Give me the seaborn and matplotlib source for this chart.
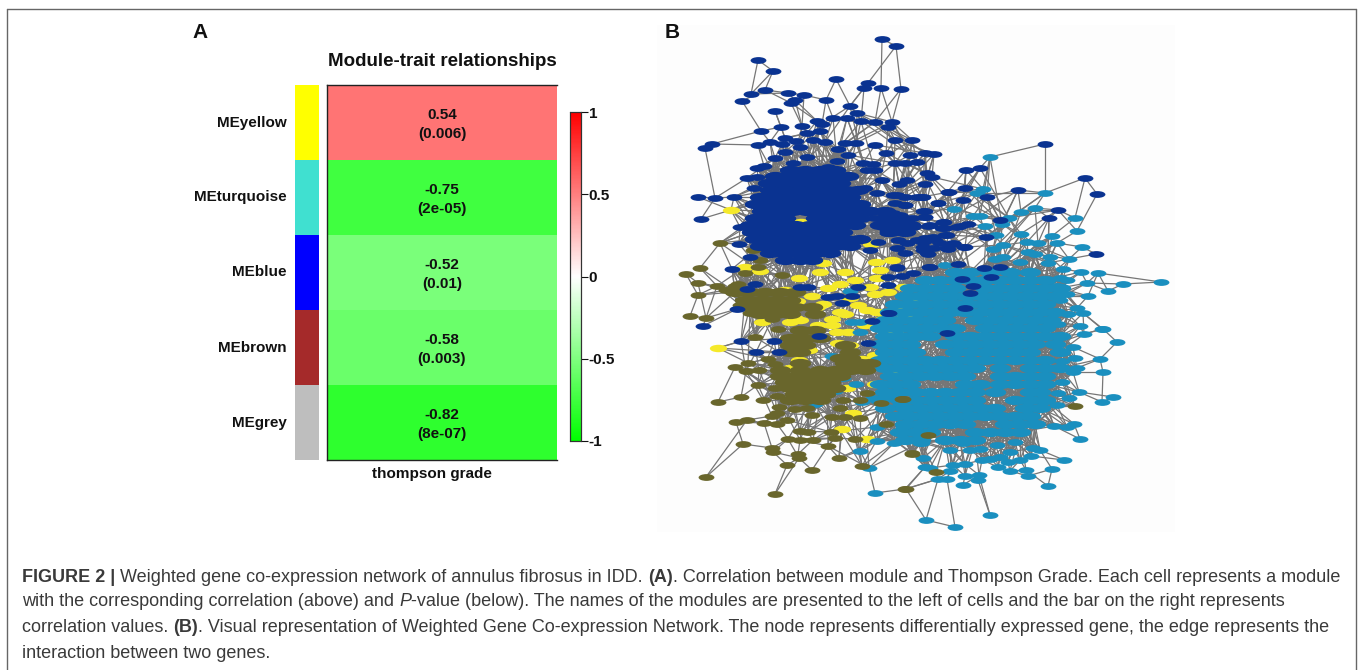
import numpy as np
import pandas as pd
import matplotlib
matplotlib.use("Agg")
import matplotlib.pyplot as plt
import seaborn as sns
from matplotlib.colors import LinearSegmentedColormap, ListedColormap
from matplotlib.collections import LineCollection
from matplotlib.lines import Line2D
from matplotlib.markers import MarkerStyle
from matplotlib.path import Path
from matplotlib.transforms import Affine2D

W, H = 1358, 670

# ---------- Panel A data ----------
modules = ["MEyellow", "MEturquoise", "MEblue", "MEbrown", "MEgrey"]
module_colors = ["#ffff00", "#40e0d0", "#0000ff", "#a52a2a", "#bebebe"]
correlation = [0.54, -0.75, -0.52, -0.58, -0.82]
p_values = ["0.006", "2e-05", "0.01", "0.003", "8e-07"]
trait = "thompson grade"
cbar_ticks = [-1, -0.5, 0, 0.5, 1]

# ---------- Panel B data: node positions (image pixels) ----------
navy_outer = [(882,39),(896,46),(758,60),(773,71),(836,79),(868,83),(864,88),(881,88),(901,89),(765,90),
 (751,94),(742,101),(788,93),(804,95),(795,100),(791,103),(826,100),(850,106),(775,111),(857,113),(833,118),
 (847,118),(861,121),(875,122),(892,122),(888,127),(817,121),(822,124),(781,127),(802,126),(761,131),(820,131),
 (807,133),(895,140),(912,140),(712,144),(705,148),(758,145),(770,142),(785,138),(796,141),(782,144),(845,143),
 (856,143),(875,145),(838,149),(825,142),(813,140),(800,147),(785,152),(886,153),(910,155),(848,155),(775,158),
 (895,163),(905,163),(917,162),(837,161),(807,157),(863,163),(873,164),(764,166),(757,168),(793,163),(828,167),
 (867,170),(875,170),(757,177),(747,178),(882,180),(907,180),(899,184),(754,188),(865,188),(877,193),(698,197),
 (715,198),(734,197),(758,203),(701,219),(740,227),(739,244),(750,257),(732,269),(897,195),(905,205),(917,197),
 (860,208),(875,218),(893,213),(907,220),(913,227),(887,233),(878,242),(898,240),(917,240),(870,250),(897,268),
 (1045,144),(1085,178),(1097,194),(1058,210),(1049,218),(1018,190),(1096,254),(980,168),(966,170),(934,154),
 (925,153),(927,173),(932,177),(925,184),(949,192),(965,188),(963,200),(987,197),(938,203),(923,197),(925,211),
 (925,217),(1000,220),(944,222),(968,224),(957,227),(928,226),(942,228),(986,237),(945,235),(933,237),(923,242),
 (940,243),(953,244),(964,247),(948,249),(933,248),(923,250),(928,254),(929,267),(958,264),(984,268),(1000,267),
 (991,277),(962,279),(973,286),(970,293),(965,308),
 (893,195),(905,197),(922,197),(895,203),(905,205),(938,203),(923,211),(925,217),(900,215),(912,218),(890,218),
 (913,225),(900,223),(887,230),(897,232),(943,222),(930,225),(945,228),(960,226),(947,235),(925,238),(935,240),
 (907,243),(897,248),(923,247),(953,243),(965,247),(947,248),(927,253),(905,253),(930,267),(897,267),(913,273),
 (902,276),(888,277),(888,313),(948,192),
 (737,309),(703,326),(741,341),(774,341),(756,352),(779,352),(747,289),(755,284),(808,287),(800,287),(858,287),
 (852,296),(837,296),(828,297),(842,303),(888,285),(889,313),(872,321),(868,343),(819,336),(947,333)]
navy_core = {170:[790,805,820,835],176:[775,790,805,820,835,848],183:[768,782,797,812,826,840],
 190:[770,785,800,815,830,845,858],197:[760,775,790,805,820,835,850],204:[755,770,785,800,815,830,845,860],
 211:[762,777,792,807,822,837,852,870,885],218:[755,770,785,816,830,845,860,885,900],
 225:[750,765,780,795,810,825,840,855,880,895,910],232:[752,767,782,797,812,827,842,890,905],
 239:[755,770,785,800,815,830,845,860],246:[760,775,790,805,820,835,850],253:[770,785,800,815,830],
 260:[785,800,812]}

teal_outer = [(990,157),(1045,193),(983,189),(977,193),(954,209),(1021,212),(1035,208),(973,216),(980,216),(1009,218),
 (1075,218),(1077,231),(985,226),(1002,224),(1021,234),(1052,236),(996,235),(1057,243),(1027,242),(1038,243),
 (1003,245),(1082,247),(993,249),(1028,252),(1035,254),(1050,257),(1069,259),(1003,257),(995,259),(1048,263),
 (1020,262),(945,265),(1063,269),(1098,273),(1081,272),(1060,278),(1067,280),(1047,281),(1087,283),(1123,284),
 (1161,282),(1057,286),(1108,291),(1088,296),(1067,294),(1060,300),(1077,308),(1083,313),(1068,314),(1058,324),
 (1080,326),(1103,329),(1102,329),(1084,334),(1117,342),(1073,347),(1075,358),(1100,359),(1062,361),(1103,372),
 (1077,368),(1073,372),(1062,382),(1079,392),(1113,397),(1102,402),(1069,398),(1058,393),(1057,405),(1054,426),
 (1067,427),(1074,424),(1080,439),(1064,460),(1052,469),(1048,486),(1031,456),(1028,476),(1026,470),(1010,471),
 (998,467),(1020,460),(1008,462),(1040,450),(990,515),(955,527),(926,520),(963,485),(978,480),(965,476),(979,475),
 (938,479),(947,479),(950,471),(925,467),(930,468),(923,458),(922,443),(950,450),(953,465),(965,464),(963,443),
 (975,440),(982,460),(990,459),(1000,457),(970,450),(980,449),(997,445),(1015,442),(1033,448),(1010,452),
 (850,291),(852,322),(860,322),(860,332),(832,356),(843,378),(856,384),(835,391),(873,398),(862,402),(815,404),
 (877,427),(877,441),(894,443),(860,451),(869,468),(875,493),(900,404),(893,397),(905,413),(903,427),(920,443)]
teal_core = {272:[955,970,990,1010,1030],280:[925,940,955,970,985,1000,1015,1030,1045],
 288:[910,925,940,955,985,1000,1015,1030,1045,1060],296:[905,920,935,950,965,980,995,1010,1025,1040,1055],
 304:[895,910,925,940,955,970,985,1000,1015,1030,1045],312:[890,905,920,935,950,965,980,995,1010,1025,1040,1055],
 320:[885,900,915,930,945,975,990,1005,1020,1035,1050],328:[880,895,910,925,940,955,985,1000,1015,1030,1045],
 336:[885,900,915,930,955,970,985,1000,1015,1030,1045,1060],344:[880,895,910,945,960,975,990,1005,1020,1035,1055],
 352:[885,900,915,955,970,985,1000,1015,1030,1060],360:[880,895,910,925,940,955,970,985,1000,1015,1030,1045],
 368:[885,900,915,930,945,960,975,1000,1030,1045,1060],376:[890,905,920,935,950,965,1000,1015,1030,1045],
 384:[880,895,910,965,980,1000,1015,1030,1045],392:[885,900,915,930,945,960,975,995,1030,1040],
 400:[880,900,915,930,945,960,975,1015,1030,1045],408:[885,905,920,935,950,965,980,995,1025,1040],
 416:[895,910,925,940,955,970,985,1000,1015,1030],424:[905,920,935,950,965,1005,1020,1035],
 432:[900,915,930,975,990,1005,1020],440:[905,920,945,960,975]}

olive_outer = [(698,283),(717,286),(698,295),(690,316),(706,318),(726,290),(738,284),(735,286),(740,305),(750,313),
 (772,319),(778,329),(755,337),(797,337),(748,363),(735,367),(746,371),(759,370),(768,359),(775,364),(758,385),
 (718,402),(741,397),(763,400),(777,396),(775,388),(736,422),(747,420),(764,423),(777,424),(787,420),(772,416),
 (779,407),(777,413),(743,444),(772,448),(773,452),(787,465),(798,454),(799,458),(788,439),(800,440),(813,440),
 (800,431),(808,432),(812,470),(706,477),(775,494),(839,458),(828,446),(835,438),(831,432),(855,439),(862,466),
 (905,489),(912,454),(886,424),(881,403),(860,400),(843,400),(840,408),(832,417),(845,417),(860,418),(795,409),
 (807,408),(812,415),(827,394),(867,393),(902,399),(1075,406),(928,435),(912,453),(936,472),(906,489),(903,399),
 (720,243),(753,250),(700,268),(760,260),(686,274),(745,273),(782,275),(758,267)]
olive_core = {292:[735,750,765,780,795],300:[745,760,775,790],307:[750,765,780,795,812],314:[760,775,790,815],
 330:[800,815],338:[790,805,820],345:[790,805,845],352:[790,800,850],358:[840,850],363:[800,845,860,870],
 370:[780,800,820,835,850,865],376:[780,795,810,825,840],382:[785,800,815,830],388:[790,805,820,835],
 394:[795,810,825],400:[790,805,820]}

yellow_nodes = [(718,348),(762,322),(790,368),(799,360),(809,350),(842,429),(867,439),(853,413),(875,384),(891,374),
 (847,388),(830,385),(862,359),(875,355),(850,345),(838,343),(895,331),(887,329),(848,332),(837,332),(832,325),
 (818,325),(832,319),(883,319),(913,319),(902,307),(867,310),(858,305),(840,312),(845,314),(817,307),(823,304),
 (797,301),(795,318),(790,322),(800,320),(828,288),(840,284),(870,287),(875,294),(888,292),(903,287),(917,302),
 (877,312),(731,210),(758,220),(801,222),(745,267),(760,271),(820,272),(823,263),(843,233),(871,244),(876,262),
 (892,260),(845,272),(877,278),(799,278),(880,270),(855,280),(850,298),(865,325),(905,315),(812,296),(785,290)]


def to_frame(name, outer, core):
    rows = [(x, y, False) for x, y in outer]
    for y, xs in core.items():
        rows += [(x, y, True) for x in xs]
    d = pd.DataFrame(rows, columns=["x", "y", "core"])
    d["module"] = name
    return d


nodes = pd.concat([to_frame("yellow", yellow_nodes, {}), to_frame("teal", teal_outer, teal_core),
                   to_frame("olive", olive_outer, olive_core), to_frame("navy", navy_outer, navy_core)],
                  ignore_index=True)
node_palette = {"yellow": "#f5e92a", "teal": "#1a8fbf", "olive": "#69662c", "navy": "#0a3391"}

sns.set_theme(style="white")
plt.rcParams["font.family"] = ["Liberation Sans", "DejaVu Sans"]

fig = plt.figure(figsize=(W / 100, H / 100), dpi=100, facecolor="white")


def pix_axes(x0, y0, x1, y1):
    return fig.add_axes([x0 / W, 1 - y1 / H, (x1 - x0) / W, (y1 - y0) / H])


LABEL = 11.0
# ---------- Panel A ----------
ax_strip = pix_axes(295, 85, 319, 460)
sns.heatmap(np.arange(len(modules)).reshape(-1, 1), ax=ax_strip, cmap=ListedColormap(module_colors),
            cbar=False, xticklabels=False, yticklabels=modules)
ax_strip.tick_params(axis="y", length=0, pad=6, labelrotation=0)
for lab in ax_strip.get_yticklabels():
    lab.set_fontweight("bold")
    lab.set_fontsize(LABEL)
    lab.set_color("#111111")

gw = LinearSegmentedColormap.from_list("gwr", ["#00ff00", "#ffffff", "#ff0000"])
ax_hm = pix_axes(327, 85, 557, 460)
ax_cb = pix_axes(570, 112, 581, 441)
annots = np.array([[f"{c:.2f}\n({p})"] for c, p in zip(correlation, p_values)])
sns.heatmap(np.array(correlation).reshape(-1, 1), ax=ax_hm, cmap=gw, vmin=-1, vmax=1, annot=annots, fmt="",
            annot_kws={"color": "#111111", "fontweight": "bold", "fontsize": LABEL, "linespacing": 1.42},
            xticklabels=False, yticklabels=False, cbar_ax=ax_cb, cbar_kws={"ticks": cbar_ticks})
for t in ax_hm.texts:
    tx, ty = t.get_position()
    t.set_position((tx, ty + 0.025))
ax_hm.set_title("Module-trait relationships", fontsize=13.5, fontweight="bold", color="#111111", pad=14, x=0.5)
ax_hm.set_xlabel(trait, fontsize=LABEL, fontweight="bold", color="#111111", labelpad=5, x=0.457)
for s in ["top", "left", "bottom"]:
    ax_hm.spines[s].set_visible(True)
    ax_hm.spines[s].set_color("#222222")
    ax_hm.spines[s].set_linewidth(1.0)

ax_cb.tick_params(axis="y", length=5, width=0.8, pad=0.5, colors="#111111", right=True)
ax_cb.set_yticks(cbar_ticks)
ax_cb.set_yticklabels(["-1", "-0.5", "0", "0.5", "1"], fontsize=LABEL, fontweight="bold")
for s in ax_cb.spines.values():
    s.set_visible(True)
    s.set_color("#333333")
    s.set_linewidth(0.8)

# ---------- Panel B ----------
ax_net = pix_axes(657, 25, 1175, 532)
ax_net.set_facecolor("#fdfdfd")
xy = nodes[["x", "y"]].to_numpy(float)
is_core = nodes["core"].to_numpy()
centre = np.array([890.0, 285.0])
radius = np.linalg.norm(xy - centre, axis=1)
segs = []
for i, p in enumerate(xy):
    dist = np.linalg.norm(xy - p, axis=1)
    inner = np.where(radius < radius[i] - 3)[0]
    if len(inner):
        order = np.argsort(dist[inner])
        picks = order[[0, 2, 5, 11, 20]] if len(inner) > 20 else order[:2]
        if radius[i] > 185:
            picks = picks[:2]
        segs += [(p, xy[j]) for j in inner[picks]]
    if is_core[i]:
        segs += [(p, xy[j]) for j in np.argsort(dist)[1:30]]
ax_net.add_collection(LineCollection(segs, colors="#767676", linewidths=0.9, zorder=1))

ellipse = Path.unit_circle().transformed(Affine2D().scale(1, 0.43))
for name in ["yellow", "teal", "olive", "navy"]:
    part = nodes[nodes.module == name]
    sns.scatterplot(data=part[~part.core], x="x", y="y", ax=ax_net, color=node_palette[name],
                    marker=MarkerStyle(ellipse), s=130 if name != "yellow" else 155, linewidth=0,
                    legend=False, zorder=2)
    if part.core.any():
        sns.scatterplot(data=part[part.core], x="x", y="y", ax=ax_net, color=node_palette[name],
                        marker=MarkerStyle(ellipse), s=240, linewidth=0, legend=False, zorder=2)
ax_net.set_xlim(657, 1175)
ax_net.set_ylim(532, 25)
ax_net.set_xlabel("")
ax_net.set_ylabel("")
ax_net.set_xticks([])
ax_net.set_yticks([])
for s in ax_net.spines.values():
    s.set_visible(False)

# ---------- Panel letters, frame, caption ----------
fig.text(192 / W, 1 - 32 / H, "A", fontsize=15, fontweight="bold", color="#111111", va="center")
fig.text(665 / W, 1 - 32 / H, "B", fontsize=15, fontweight="bold", color="#111111", va="center")
frame_lines = [([7, 7], [9, 670]), ([7, 1356], [9, 9]), ([1356, 1356], [9, 670])]
for xs, ys in frame_lines:
    fig.add_artist(Line2D([x / W for x in xs], [1 - y / H for y in ys], color="#666666", lw=1.0))

caption = [
    (577, [("FIGURE 2 |", "bold", "normal"), ("Weighted gene co-expression network of annulus fibrosus in IDD.", "normal", "normal"),
           ("(A)", "bold", "normal"), (". Correlation between module and Thompson Grade. Each cell represents a module", "normal", "normal", 0)]),
    (602, [("with the corresponding correlation (above) and", "normal", "normal"), ("P", "normal", "italic"),
           ("-value (below). The names of the modules are presented to the left of cells and the bar on the right represents", "normal", "normal", 0)]),
    (627, [("correlation values.", "normal", "normal"), ("(B)", "bold", "normal"),
           (". Visual representation of Weighted Gene Co-expression Network. The node represents differentially expressed gene, the edge represents the", "normal", "normal", 0)]),
    (653, [("interaction between two genes.", "normal", "normal")]),
]
CAP_SIZE = 12.95
renderer = fig.canvas.get_renderer()
space = CAP_SIZE * 100 / 72 * 0.278
for y, runs in caption:
    x = 22.0
    for k, run in enumerate(runs):
        t = fig.text(x / W, 1 - y / H, run[0], fontsize=CAP_SIZE, fontweight=run[1], fontstyle=run[2],
                     color="#3a3a3a", va="center", ha="left")
        x += t.get_window_extent(renderer).width
        nxt = runs[k + 1] if k + 1 < len(runs) else None
        if nxt is not None and not nxt[0].startswith(".") and not nxt[0].startswith("-"):
            x += space

fig.savefig("out.png", dpi=100)
